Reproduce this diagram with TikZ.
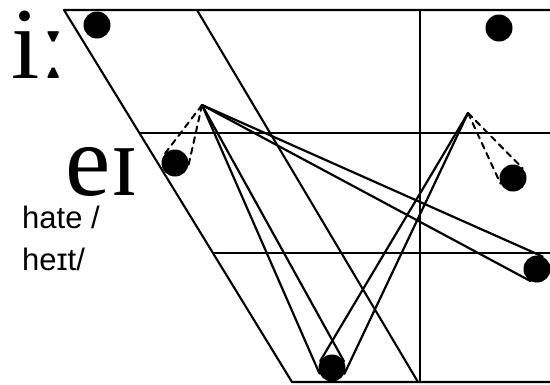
\documentclass[tikz,border=0pt]{standalone}
\usepackage{fontspec}
\setmainfont{Liberation Serif}
\newfontfamily\wordfont{Liberation Sans}
\usepackage{tikz}
\usetikzlibrary{calc}

\begin{document}
\begin{tikzpicture}[x=1pt,y=-1pt,line join=round,line cap=round,
  frame/.style={line width=2.1pt},
  path/.style={line width=2.2pt},
  glide/.style={line width=2pt,dash pattern=on 6pt off 5pt},
  dot/.style={circle,fill=black,inner sep=0pt,minimum size=27pt},
  ipa/.style={anchor=base west,inner sep=0pt,text depth=0pt,font=\fontsize{102}{102}\selectfont},
  word/.style={anchor=base west,inner sep=0pt,font=\wordfont\fontsize{31}{40}\selectfont}]
  \useasboundingbox (0,0) rectangle (550,384);
  % chart
  \draw[frame] (550,10)--(64,10)--(292,382)--(550,382);
  \draw[frame] (197,10)--(418,382);
  \draw[frame] (420,10)--(420,382);
  \draw[frame] (140,133)--(550,133);
  \draw[frame] (214,253)--(550,253);
  % dots
  \node[dot] (i) at (97,25) {};
  \node[dot] (u) at (499,28) {};
  \node[dot] (e) at (175,163) {};
  \node[dot] (o) at (513,178) {};
  \node[dot] (r) at (537,269) {};
  \node[dot] (a) at (332,368) {};
  \coordinate (p1) at (202,105);
  \coordinate (p2) at (468,113);
  % glides
  \foreach \s in {1,2} {
    \draw[path] (p1)--(tangent cs:node=a,point={(p1)},solution=\s);
    \draw[path] (p2)--(tangent cs:node=a,point={(p2)},solution=\s);
    \draw[path] (p1)--(tangent cs:node=r,point={(p1)},solution=\s);
    \draw[glide] (p1)--(tangent cs:node=e,point={(p1)},solution=\s);
    \draw[glide] (p2)--(tangent cs:node=o,point={(p2)},solution=\s);
  }
  % labels
  \node[ipa] (lbli) at (11,78) {iː};
  \node[ipa] (lble) at (65,195) {eɪ};
  \node[word] (hate) at (22,228) {hate /};
  \node[word] (heit) at (22,270) {heɪt/};
\end{tikzpicture}
\end{document}
